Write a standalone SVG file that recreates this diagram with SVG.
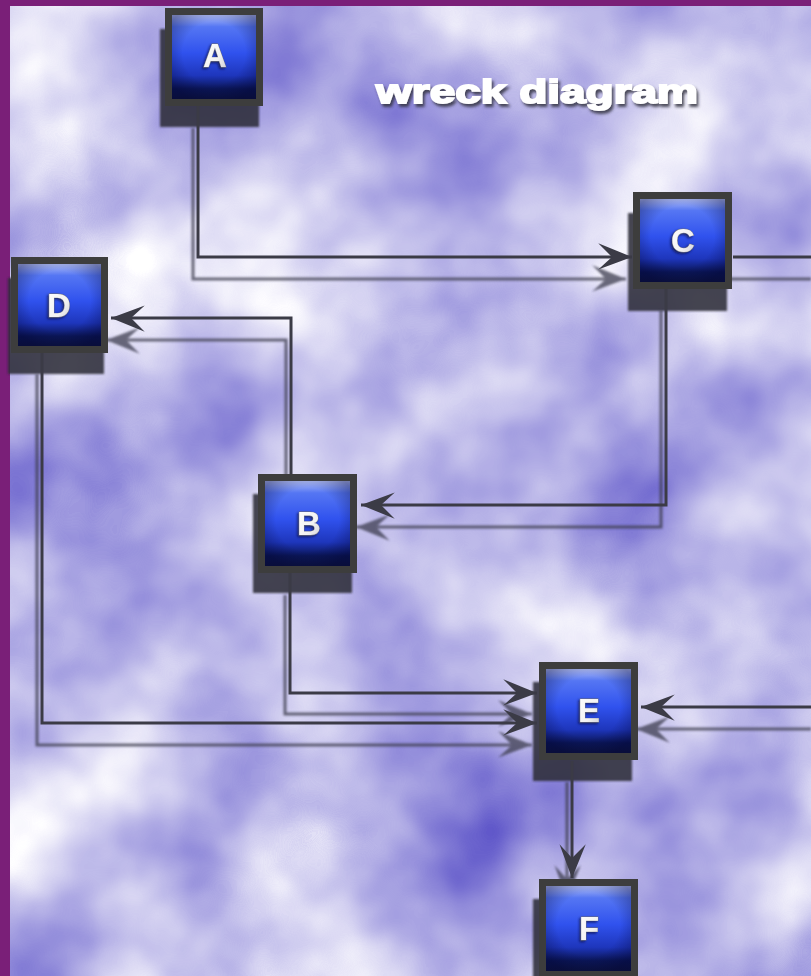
<svg xmlns="http://www.w3.org/2000/svg" width="811" height="976" viewBox="0 0 811 976">
<defs>
<style>
.edge{fill:none;stroke:#3b3b46;stroke-width:3;marker-end:url(#arrow)}
.edge-sh{fill:none;stroke:#3e3e50;stroke-width:3;marker-end:url(#arrowSh)}
.nshadow{fill:#2f2f38;opacity:0.88}
.frame-box{fill:#3d3d3d}
.face{fill:url(#blue)}
.vig{fill:url(#vignette)}
.lbl{font-family:"Liberation Sans",Arial,sans-serif;font-weight:bold;font-size:33px;fill:url(#silver);stroke:#6e6e78;stroke-width:0.8;paint-order:stroke;text-anchor:middle;filter:url(#lblsh)}
.title{font-family:"Liberation Sans",Arial,sans-serif;font-weight:bold;font-size:34px;fill:#ffffff;stroke:#ffffff;stroke-width:1.8;filter:url(#titlesh)}
</style>
<filter id="clouds" x="0" y="0" width="100%" height="100%" color-interpolation-filters="sRGB">
<feTurbulence type="fractalNoise" baseFrequency="0.0055" numOctaves="4" seed="11" result="n"/>
<feColorMatrix in="n" type="matrix" values="1 0 0 0 0  1 0 0 0 0  1 0 0 0 0  0 0 0 0 1"/>
<feComponentTransfer>
<feFuncR type="linear" slope="0.82" intercept="0.33"/>
<feFuncG type="linear" slope="0.86" intercept="0.295"/>
<feFuncB type="linear" slope="0.28" intercept="0.775"/>
</feComponentTransfer>
</filter>
<filter id="blur" x="-10%" y="-10%" width="120%" height="120%">
<feGaussianBlur stdDeviation="1.3"/>
</filter>
<filter id="nblur" x="-10%" y="-10%" width="120%" height="120%">
<feGaussianBlur stdDeviation="1"/>
</filter>
<filter id="lblsh" x="-30%" y="-30%" width="160%" height="160%">
<feDropShadow dx="-1.5" dy="1.5" stdDeviation="0.8" flood-color="#101030" flood-opacity="0.7"/>
</filter>
<filter id="titlesh" x="-10%" y="-30%" width="120%" height="170%">
<feDropShadow dx="2" dy="3" stdDeviation="1.5" flood-color="#303040" flood-opacity="0.85"/>
</filter>
<linearGradient id="blue" x1="0" y1="0" x2="0" y2="1">
<stop offset="0" stop-color="#b0bdf5"/>
<stop offset="0.14" stop-color="#5576f3"/>
<stop offset="0.45" stop-color="#3052ee"/>
<stop offset="0.72" stop-color="#1e36bc"/>
<stop offset="0.88" stop-color="#0b1658"/>
<stop offset="1" stop-color="#0d1444"/>
</linearGradient>
<radialGradient id="vignette" cx="0.5" cy="0.45" r="0.62">
<stop offset="0.6" stop-color="#000028" stop-opacity="0"/>
<stop offset="1" stop-color="#000028" stop-opacity="0.35"/>
</radialGradient>
<linearGradient id="silver" x1="0" y1="0" x2="1" y2="1">
<stop offset="0" stop-color="#ffffff"/>
<stop offset="0.6" stop-color="#f2f2f2"/>
<stop offset="1" stop-color="#c8c8d0"/>
</linearGradient>
<marker id="arrow" markerUnits="userSpaceOnUse" markerWidth="40" markerHeight="40" viewBox="-30 -15 32 30" refX="0" refY="0" orient="auto">
<path d="M0,0 L-27,-11 L-16,0 L-27,10 Z" fill="#3b3b46"/>
</marker>
<marker id="arrowSh" markerUnits="userSpaceOnUse" markerWidth="40" markerHeight="40" viewBox="-30 -15 32 30" refX="0" refY="0" orient="auto">
<path d="M0,0 L-27,-11 L-16,0 L-27,10 Z" fill="#3e3e50"/>
</marker>
</defs>

<rect x="0" y="0" width="811" height="976" fill="#b0ade6"/>
<rect x="0" y="0" width="811" height="976" filter="url(#clouds)"/>

<g id="frame">
<rect x="0" y="0" width="811" height="6" fill="#7a1f78"/>
<rect x="0" y="0" width="10" height="976" fill="#7a1f78"/>
</g>

<text class="title" x="376" y="103" textLength="322" lengthAdjust="spacingAndGlyphs">wreck diagram</text>

<g id="node-shadows" filter="url(#nblur)">
<rect class="nshadow" x="160" y="29" width="99" height="98"/>
<rect class="nshadow" x="628" y="213" width="99" height="98"/>
<rect class="nshadow" x="8" y="278" width="96" height="96"/>
<rect class="nshadow" x="253" y="494" width="99" height="99"/>
<rect class="nshadow" x="533" y="682" width="99" height="99"/>
<rect class="nshadow" x="533" y="899" width="99" height="99"/>
</g>

<g id="connectors">
<g id="connector-shadows" filter="url(#blur)" opacity="0.75">
<path class="edge-sh" d="M193,128 V279 H626"/>
<path class="edge-sh" d="M728,279 H811" style="marker-end:none"/>
<path class="edge-sh" d="M661,310 V527 H356"/>
<path class="edge-sh" d="M286,495 V340 H106"/>
<path class="edge-sh" d="M37,374 V745 H532"/>
<path class="edge-sh" d="M285,595 V714 H532"/>
<path class="edge-sh" d="M811,729 H636"/>
<path class="edge-sh" d="M567,782 V899"/>
</g>
<path id="A-C" class="edge" d="M198,106 V257 H632"/>
<path id="C-out" class="edge" d="M733,257 H811" style="marker-end:none"/>
<path id="C-B" class="edge" d="M666,288 V505 H361"/>
<path id="B-D" class="edge" d="M291,474 V318 H111"/>
<path id="D-E" class="edge" d="M42,352 V723 H537"/>
<path id="B-E" class="edge" d="M290,573 V693 H537"/>
<path id="in-E" class="edge" d="M811,707 H641"/>
<path id="E-F" class="edge" d="M572,761 V878"/>
</g>

<g id="A">
<rect class="frame-box" x="165" y="8" width="98" height="98"/>
<rect class="face" x="172" y="15" width="84" height="84"/>
<rect class="vig" x="172" y="15" width="84" height="84"/>
<text class="lbl" x="215" y="67">A</text>
</g>
<g id="C">
<rect class="frame-box" x="633" y="192" width="99" height="97"/>
<rect class="face" x="640" y="199" width="85" height="83"/>
<rect class="vig" x="640" y="199" width="85" height="83"/>
<text class="lbl" x="683" y="252">C</text>
</g>
<g id="D">
<rect class="frame-box" x="11" y="257" width="97" height="96"/>
<rect class="face" x="18" y="264" width="83" height="82"/>
<rect class="vig" x="18" y="264" width="83" height="82"/>
<text class="lbl" x="59" y="317">D</text>
</g>
<g id="B">
<rect class="frame-box" x="258" y="474" width="99" height="99"/>
<rect class="face" x="265" y="481" width="85" height="85"/>
<rect class="vig" x="265" y="481" width="85" height="85"/>
<text class="lbl" x="309" y="535">B</text>
</g>
<g id="E">
<rect class="frame-box" x="539" y="662" width="99" height="98"/>
<rect class="face" x="546" y="669" width="85" height="84"/>
<rect class="vig" x="546" y="669" width="85" height="84"/>
<text class="lbl" x="589" y="722">E</text>
</g>
<g id="F">
<rect class="frame-box" x="539" y="879" width="99" height="99"/>
<rect class="face" x="546" y="886" width="85" height="85"/>
<rect class="vig" x="546" y="886" width="85" height="85"/>
<text class="lbl" x="589" y="940">F</text>
</g>
</svg>
